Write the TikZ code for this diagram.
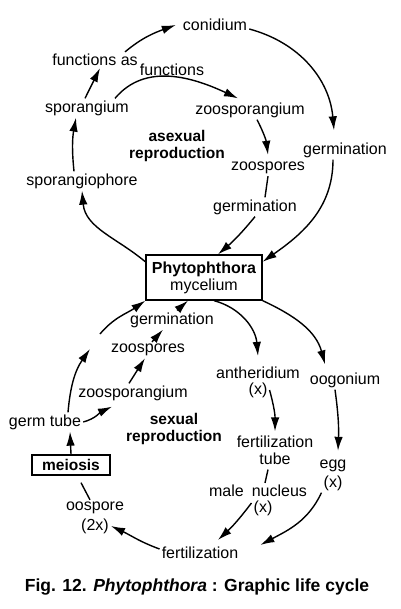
\documentclass[tikz,border=0pt]{standalone}
\usepackage{fontspec}
\setmainfont{Liberation Sans}
\usetikzlibrary{arrows.meta}

\begin{document}
\begin{tikzpicture}[x=1pt,y=1pt,
  every node/.style={inner sep=2pt,font=\fontsize{16}{17}\selectfont},
  lbl/.style={align=center},
  heading/.style={font=\fontsize{15.5}{17}\selectfont\bfseries,align=center},
  frame/.style={draw,line width=1.3pt},
  arr/.style={line width=1.4pt,-{Latex[length=14pt,width=8.5pt]}},
  ln/.style={line width=1.4pt}]
\useasboundingbox (0,0) rectangle (400,-609);
\node (conidium) at (215,-25) {conidium};
\node (funcas) at (95,-60) {functions as};
\node (funcs) at (172,-70) {functions};
\node (sporangium) at (87,-108) {sporangium};
\node (zsporU) at (250,-110) {zoosporangium};
\node[heading] (asexual) at (177,-146) {asexual\\reproduction};
\node (germR) at (345,-150) {germination};
\node (zsporesU) at (268,-168) {zoospores};
\node (sphore) at (82,-181) {sporangiophore};
\node (germU) at (255,-207) {germination};
\node[frame,minimum width=116pt,minimum height=45pt,align=center] (myc) at (204,-277.5) {\textbf{Phytophthora}\\mycelium};
\node (germL) at (172,-320) {germination};
\node (zsporesL) at (148,-350) {zoospores};
\node (anth) at (258,-373) {antheridium};
\node (anthx) at (258,-390) {(x)};
\node (oog) at (345,-380) {oogonium};
\node (zsporL) at (133,-393) {zoosporangium};
\node (gtube) at (45,-422) {germ tube};
\node[heading] (sexual) at (174,-429) {sexual\\reproduction};
\node[lbl] (ftube) at (275,-450) {fertilization\\tube};
\node[frame,font=\fontsize{15.5}{17}\selectfont\bfseries,minimum width=78pt,minimum height=20pt,inner sep=1pt] (meiosis) at (71,-465) {meiosis};
\node (egg) at (333,-466) {egg};
\node (eggx) at (333,-483) {(x)};
\node (nucleus) at (258,-491) {male\hspace{8pt}nucleus};
\node (nucx) at (263,-508) {(x)};
\node (oospore) at (95,-508) {oospore};
\node (osporex) at (95,-526) {(2x)};
\node (fert) at (200,-553) {fertilization};
\node[font=\fontsize{17.5}{19}\selectfont\bfseries] (caption) at (197,-587) {Fig. 12. \textit{Phytophthora} : Graphic life cycle};
\coordinate (midA) at (90,-349);
\coordinate (midB) at (100,-334);
\draw[arr] (myc.165) to[out=140,in=-85] (sphore.south);
\draw[arr] ([xshift=-8pt]sphore.north) to[bend left=8] ([xshift=-11pt]sporangium.south);
\draw[arr] ([xshift=-2pt]sporangium.north) -- ([xshift=5pt]funcas.south);
\draw[arr] ([xshift=30pt]funcas.north) to[out=40,in=200] ([xshift=-5pt]conidium.west);
\draw[arr] ([yshift=-4pt]conidium.east) to[out=-15,in=95] ([shift={(-11pt,10pt)}]germR.north);
\draw[arr] ([xshift=-12pt]germR.south) to[out=-90,in=35] (myc.15);
\draw[arr] ([xshift=28pt]sporangium.north) to[out=50,in=155] ([shift={(-12pt,2pt)}]zsporU.north);
\draw[arr] ([xshift=7pt]zsporU.south) to[bend left=10] ([yshift=5pt]zsporesU.north);
\draw[ln] (zsporesU.south) -- ([xshift=10pt]germU.north);
\draw[arr] (germU.south) to[bend left=5] ([xshift=14pt]myc.north);
\draw[arr] ([xshift=23pt]gtube.north) to[out=85,in=235] (midA);
\draw[arr] (midB) to[out=50,in=215] (myc.south west);
\draw[arr] (gtube.east) to[out=15,in=205] ([shift={(-21pt,-4pt)}]zsporL.south);
\draw[arr] ([xshift=-4pt]zsporL.north) -- ([xshift=-3pt]zsporesL.south);
\draw[arr] ([xshift=4pt]zsporesL.north) -- ([xshift=-9pt]germL.south);
\draw[arr] ([xshift=5pt]germL.north) -- ([xshift=-16pt]myc.south);
\draw[arr] ([xshift=10pt]myc.south) to[out=-15,in=95] ([yshift=9pt]anth.north);
\draw[arr] (myc.south east) to[out=-25,in=105] ([shift={(-20pt,6pt)}]oog.north);
\draw[arr] (anthx.east) to[bend left=8] ([yshift=2pt]ftube.north);
\draw[arr] ([xshift=-10pt]oog.south) to[bend left=5] ([shift={(5pt,7pt)}]egg.north);
\draw[ln] ([shift={(-7pt,-3pt)}]ftube.south) -- ([xshift=7pt]nucleus.north);
\draw[arr] ([yshift=5pt]nucx.west) to[bend left=5] ([shift={(18pt,5pt)}]fert.north);
\draw[arr] (eggx.south west) to[out=-115,in=28] ([xshift=20pt]fert.north east);
\draw[arr] ([yshift=4pt]fert.west) to[out=160,in=-25] (osporex.east);
\draw[ln] ([xshift=-5pt]oospore.north) -- ([shift={(10pt,-7pt)}]meiosis.south);
\draw[arr] (meiosis.north) -- ([xshift=25pt]gtube.south);
\end{tikzpicture}
\end{document}
